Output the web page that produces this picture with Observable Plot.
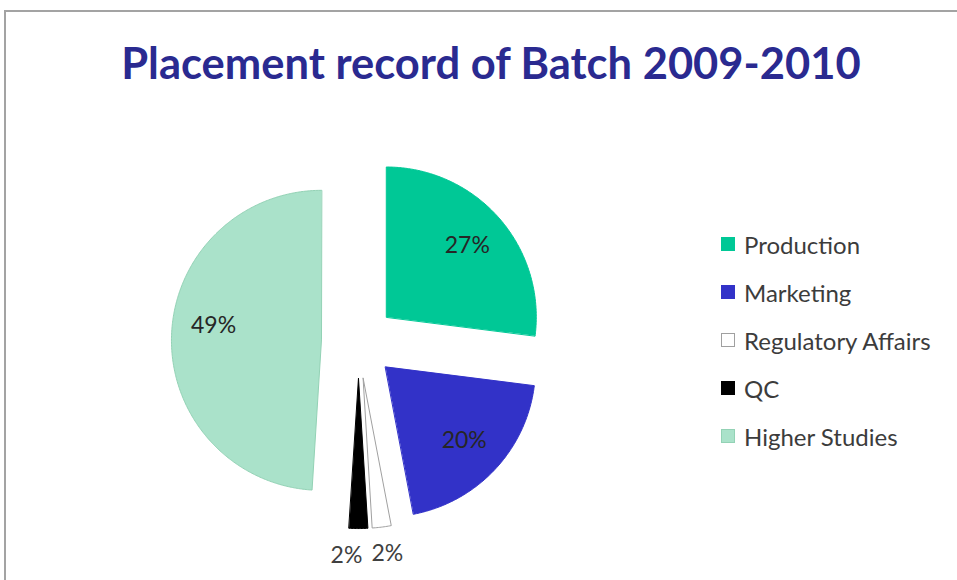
<!DOCTYPE html>
<html>
<head>
<meta charset="utf-8">
<script src="https://cdn.jsdelivr.net/npm/d3@7"></script>
<script src="https://cdn.jsdelivr.net/npm/@observablehq/plot@0.6"></script>
<style>
  html, body { margin: 0; padding: 0; background: #ffffff; }
  #wrap { position: relative; width: 957px; height: 580px; overflow: hidden; font-family: Lato, "Open Sans", sans-serif; }
  #frame { position: absolute; left: 4px; top: 10px; width: 1100px; height: 800px;
           border-top: 2px solid #a3a3a3; border-left: 2px solid #a3a3a3; box-sizing: border-box; }
  #chart { position: absolute; left: 0; top: 0; }
  #title { position: absolute; left: 0; top: 36px; width: 982px; text-align: center;
           font-family: Lato, sans-serif; font-weight: bold; font-size: 43.5px; color: #2a2a90;
           line-height: 52px; white-space: nowrap; }
  #legend { position: absolute; left: 721px; top: 220px; }
  .item { position: relative; height: 48px; display: flex; align-items: center; }
  .sw { width: 14px; height: 14px; box-sizing: border-box; margin-right: 9px; }
  .lab { font-size: 24px; color: #3c3c3c; white-space: nowrap; }
</style>
</head>
<body>
<div id="wrap">
  <div id="frame"></div>
  <div id="chart"></div>
  <div id="title">Placement record of Batch 2009-2010</div>
  <div id="legend"></div>
</div>
<script>
// ---- data ----
const categories = ["Production", "Marketing", "Regulatory Affairs", "QC", "Higher Studies"];
const values = [27, 20, 2, 2, 49];
const labels = ["27%", "20%", "2%", "2%", "49%"];
const fills = ["#00c896", "#3232c8", "#ffffff", "#000000", "#aae2ca"];
const strokes = ["#00c896", "#3232c8", "#a0a0a0", "#000000", "#93d2b5"];

// ---- geometry from data ----
const explode = 0.247;
const arcs = d3.pie().sort(null).value(d => d)(values);
const slices = arcs.map((a, i) => {
  const m = (a.startAngle + a.endAngle) / 2;
  const ax = explode * Math.sin(m), ay = explode * Math.cos(m);
  const pts = [{x: ax, y: ay}];
  const n = Math.max(2, Math.ceil((a.endAngle - a.startAngle) / 0.01));
  for (let k = 0; k <= n; k++) {
    const t = a.startAngle + (a.endAngle - a.startAngle) * k / n;
    pts.push({x: ax + Math.sin(t), y: ay + Math.cos(t)});
  }
  return {i, cat: categories[i], value: values[i], label: labels[i], m, ax, ay, pts};
});
const inside = slices.filter(s => s.value >= 5).map(s => ({
  label: s.label, cat: s.cat,
  x: s.ax + 0.72 * Math.sin(s.m), y: s.ay + 0.72 * Math.cos(s.m)
}));
const outside = slices.filter(s => s.value < 5).map(s => ({
  label: s.label, cat: s.cat,
  x: s.ax + 1.18 * Math.sin(s.m), y: s.ay + 1.18 * Math.cos(s.m)
}));

const marks = slices.map(s => Plot.line(s.pts, {
  x: "x", y: "y", curve: "linear-closed",
  fill: fills[s.i], stroke: strokes[s.i], strokeWidth: 1
}));
const labelStyle = {text: "label", fontFamily: "Lato, sans-serif", fontSize: 23, fill: "#262626"};
marks.push(Plot.text(inside.filter(d => d.cat !== "Higher Studies"), {x: "x", y: "y", ...labelStyle}));
marks.push(Plot.text(inside.filter(d => d.cat === "Higher Studies"), {x: "x", y: "y", dy: -11, ...labelStyle}));
marks.push(Plot.text(outside.filter(d => d.cat === "QC"), {x: "x", y: "y", dx: -12, ...labelStyle, fill: "#404040"}));
marks.push(Plot.text(outside.filter(d => d.cat === "Regulatory Affairs"), {x: "x", y: "y", dx: 2, ...labelStyle, fill: "#404040"}));

const chart = Plot.plot({
  width: 957, height: 580, margin: 0,
  x: {domain: [-1, 1], range: [208, 508], axis: null},
  y: {domain: [-1, 1], range: [491, 191], axis: null},
  style: {background: "transparent", overflow: "visible"},
  marks
});
document.getElementById("chart").appendChild(chart);

// ---- legend ----
const legend = document.getElementById("legend");
categories.forEach((c, i) => {
  const item = document.createElement("div");
  item.className = "item";
  const sw = document.createElement("div");
  sw.className = "sw";
  sw.style.background = fills[i];
  sw.style.border = "1px solid " + strokes[i];
  const lab = document.createElement("span");
  lab.className = "lab";
  lab.textContent = c;
  item.appendChild(sw); item.appendChild(lab);
  legend.appendChild(item);
});
</script>
</body>
</html>
